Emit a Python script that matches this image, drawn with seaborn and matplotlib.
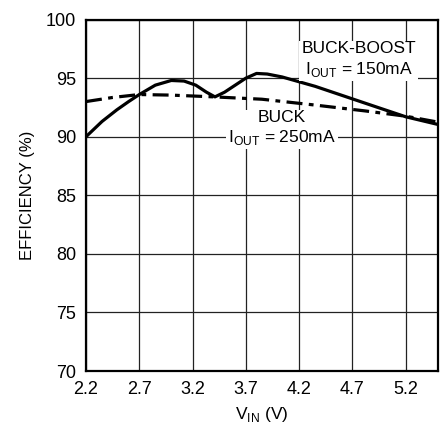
import matplotlib
matplotlib.use("Agg")
import matplotlib.pyplot as plt
import seaborn as sns
import pandas as pd

# BUCK-BOOST, IOUT = 150mA (solid)
vin_bb = [2.2, 2.35, 2.49, 2.6, 2.7, 2.85, 3.0, 3.12, 3.23, 3.33, 3.41, 3.5, 3.6, 3.7, 3.8, 3.9, 4.04, 4.35, 4.66, 4.97, 5.2, 5.5]
eff_bb = [90.0, 91.3, 92.3, 93.0, 93.6, 94.4, 94.8, 94.75, 94.4, 93.8, 93.4, 93.8, 94.4, 95.0, 95.4, 95.35, 95.1, 94.3, 93.35, 92.4, 91.7, 91.05]

# BUCK, IOUT = 250mA (dash-dot)
vin_b = [2.2, 2.45, 2.7, 3.0, 3.4, 3.85, 4.35, 4.82, 5.2, 5.5]
eff_b = [93.0, 93.35, 93.6, 93.55, 93.4, 93.2, 92.7, 92.2, 91.75, 91.25]

xticks = [2.2, 2.7, 3.2, 3.7, 4.2, 4.7, 5.2]
yticks = [70, 75, 80, 85, 90, 95, 100]

sns.set_theme(style="white")
plt.rcParams["font.family"] = ["Liberation Sans Narrow", "Liberation Sans", "DejaVu Sans"]
plt.rcParams["mathtext.fontset"] = "custom"
plt.rcParams["mathtext.rm"] = "Liberation Sans"
plt.rcParams["text.color"] = "black"
plt.rcParams["axes.labelcolor"] = "black"
plt.rcParams["xtick.color"] = "black"
plt.rcParams["ytick.color"] = "black"

fig = plt.figure(figsize=(4.4, 4.25), dpi=100)
ax = fig.add_axes([0.1955, 0.127, 0.7993, 0.827])

df_bb = pd.DataFrame({"vin": vin_bb, "eff": eff_bb})
df_b = pd.DataFrame({"vin": vin_b, "eff": eff_b})

sns.lineplot(data=df_bb, x="vin", y="eff", ax=ax, color="black", lw=2.3, zorder=4)
sns.lineplot(data=df_b, x="vin", y="eff", ax=ax, color="black", lw=2.3, zorder=3)
ax.lines[-1].set_dashes([5.0, 2.0, 1.5, 2.0])

ax.set_xlim(2.2, 5.5)
ax.set_ylim(70, 100)
ax.set_xticks(xticks)
ax.set_yticks(yticks)
ax.set_xticklabels([f"{v:.1f}" for v in xticks], fontsize=13)
ax.set_yticklabels([str(v) for v in yticks], fontsize=13)
ax.tick_params(length=0, pad=7)
ax.grid(True, color="#222222", lw=0.9)
for s in ax.spines.values():
    s.set_color("black")
    s.set_linewidth(1.6)

ax.set_xlabel(r"V$_{\mathrm{IN}}$ (V)", fontsize=12.5, labelpad=5)
ax.set_ylabel("EFFICIENCY (%)", fontsize=12, labelpad=8)

box = dict(facecolor="white", edgecolor="none", pad=1.5)
ax.text(4.76, 96.55, "BUCK-BOOST\n" + r"I$_{\mathrm{OUT}}$ = 150mA", ha="center",
        va="center", multialignment="center", fontsize=12.5, linespacing=1.25,
        bbox=box, zorder=5)
ax.text(4.04, 90.7, "BUCK\n" + r"I$_{\mathrm{OUT}}$ = 250mA", ha="center",
        va="center", multialignment="center", fontsize=12.5, linespacing=1.15,
        bbox=box, zorder=2)

fig.savefig("out.png", dpi=100)
